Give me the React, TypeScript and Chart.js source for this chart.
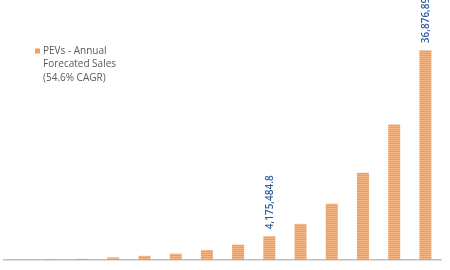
import React, { useEffect, useRef } from "react";
import { Chart, registerables } from "chart.js";

Chart.register(...registerables);

const categories = ["P1", "P2", "P3", "P4", "P5", "P6", "P7", "P8", "P9", "P10", "P11", "P12", "P13", "P14"];
const salesValues = [0, 120000, 200000, 450000, 730000, 1120000, 1750000, 2700000, 4175484.8, 6350000, 9900000, 15350000, 23800000, 36876895.2];
const labeledIndices = [8, 13];
const legendLines = ["PEVs - Annual", "Forecated Sales", "(54.6% CAGR)"];
const yMax = 45000000;

function makePattern(ctx: CanvasRenderingContext2D): CanvasPattern | string {
  const c = document.createElement("canvas");
  c.width = 4;
  c.height = 2;
  const p = c.getContext("2d");
  if (!p) return "#F2A468";
  p.fillStyle = "#F6B787";
  p.fillRect(0, 0, 4, 2);
  p.fillStyle = "#F0995A";
  p.fillRect(0, 1, 4, 1);
  return ctx.createPattern(c, "repeat") || "#F2A468";
}

const legendPlugin = {
  id: "customLegend",
  afterDraw(chart: any) {
    const ctx = chart.ctx as CanvasRenderingContext2D;
    ctx.save();
    ctx.fillStyle = "#F0A062";
    ctx.fillRect(35, 48.5, 5, 5);
    ctx.fillStyle = "#595959";
    ctx.font = "10px 'Open Sans'";
    ctx.textAlign = "left";
    ctx.textBaseline = "middle";
    legendLines.forEach((line, i) => {
      ctx.fillText(line, 43, 51 + i * 13.5);
    });
    ctx.restore();
  },
};

const valueLabelPlugin = {
  id: "valueLabels",
  afterDatasetsDraw(chart: any) {
    const ctx = chart.ctx as CanvasRenderingContext2D;
    const meta = chart.getDatasetMeta(0);
    ctx.save();
    ctx.fillStyle = "#2E5A9C";
    ctx.font = "600 10px 'Open Sans'";
    ctx.textAlign = "left";
    ctx.textBaseline = "middle";
    labeledIndices.forEach((idx) => {
      const bar = meta.data[idx];
      if (!bar) return;
      const text = salesValues[idx].toLocaleString("en-US", {
        minimumFractionDigits: 1,
        maximumFractionDigits: 1,
      });
      ctx.save();
      ctx.translate(bar.x + 1, bar.y - 7);
      ctx.rotate(-Math.PI / 2);
      ctx.fillText(text, 0, 0);
      ctx.restore();
    });
    ctx.restore();
  },
};

export default function App() {
  const canvasRef = useRef<HTMLCanvasElement | null>(null);

  useEffect(() => {
    document.body.style.margin = "0";
    const canvas = canvasRef.current;
    if (!canvas) return;
    const ctx = canvas.getContext("2d");
    if (!ctx) return;
    const pattern = makePattern(ctx);
    const chart = new Chart(ctx, {
      type: "bar",
      data: {
        labels: categories,
        datasets: [
          {
            label: legendLines.join(" "),
            data: salesValues,
            backgroundColor: pattern as any,
            borderWidth: 0,
            categoryPercentage: 1,
            barPercentage: 0.385,
          },
        ],
      },
      options: {
        animation: false,
        responsive: true,
        maintainAspectRatio: false,
        layout: { padding: { top: 4, left: 4, right: 9, bottom: 10 } },
        plugins: {
          legend: { display: false },
          tooltip: { enabled: false },
        },
        scales: {
          x: {
            display: true,
            grid: { display: false, drawTicks: false },
            ticks: { display: false },
            border: { display: true, color: "#BFBFBF", width: 1.5 },
          },
          y: {
            display: false,
            min: 0,
            max: yMax,
          },
        },
      },
      plugins: [legendPlugin, valueLabelPlugin],
    });
    return () => chart.destroy();
  }, []);

  return (
    <div style={{ width: 450, height: 270, position: "relative" }}>
      <canvas ref={canvasRef} />
    </div>
  );
}
